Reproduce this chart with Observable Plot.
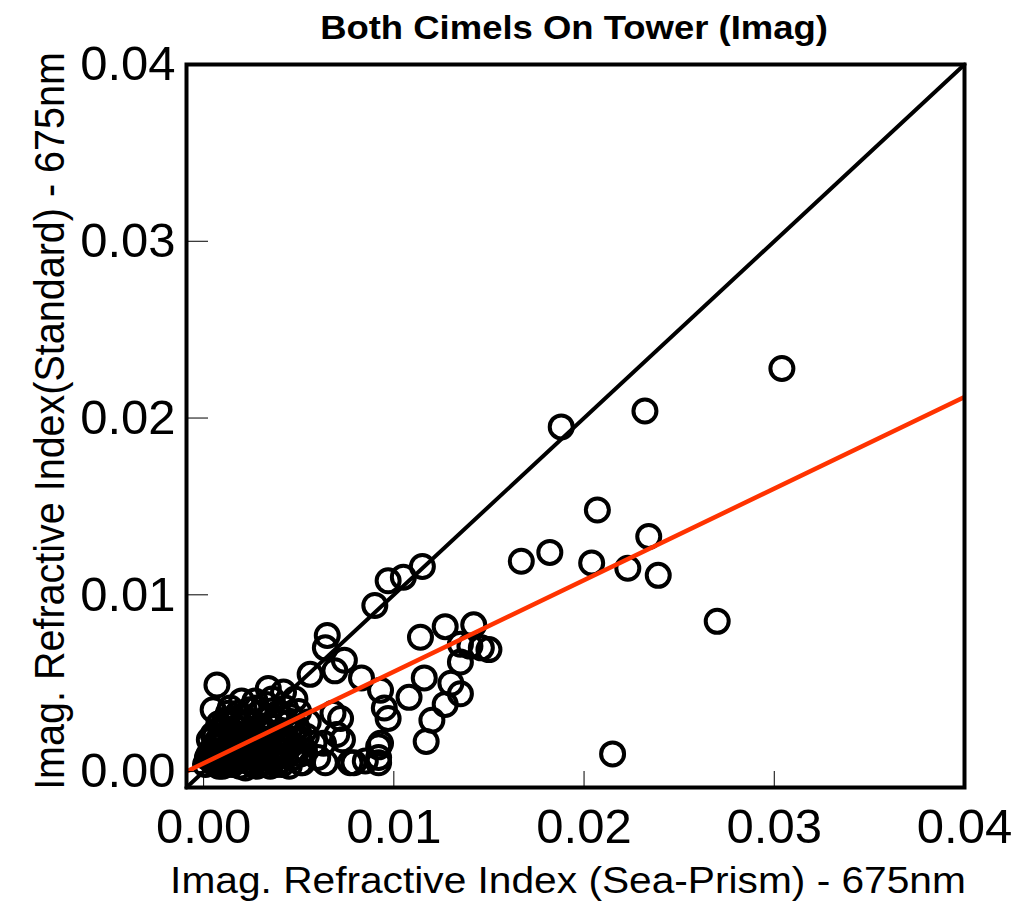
<!DOCTYPE html>
<html>
<head>
<meta charset="utf-8">
<script src="https://cdn.jsdelivr.net/npm/d3@7"></script>
<script src="https://cdn.jsdelivr.net/npm/@observablehq/plot@0.6"></script>
<style>
  body { margin: 0; background: #fff; }
</style>
</head>
<body>
<div id="chart"></div>
<script>
// Imaginary refractive index at 675 nm: Sea-Prism retrieval (x) vs standard Cimel retrieval (y)
const seaPrism = [
  0.0304, 0.0232, 0.0188, 0.0207, 0.0234, 0.0167, 0.0182, 0.0204, 0.0223, 0.0239, 0.0270, 0.0215,
  0.0115, 0.0105, 0.0097, 0.0090, 0.0065, 0.0064, 0.0074, 0.0056, 0.0069,
  0.0114, 0.0127, 0.0142, 0.0135, 0.0140, 0.0146, 0.0150, 0.0135, 0.0130, 0.0135, 0.0116, 0.0108, 0.0127, 0.0120, 0.0117,
  0.0083, 0.0093, 0.0095, 0.0097, 0.0068, 0.0072, 0.0070, 0.0073, 0.0093, 0.0092, 0.0092, 0.0085, 0.0079, 0.0092,
  0.0064, 0.0063, 0.0053, 0.0050, 0.0050, 0.0051, 0.0077, 0.0038,
  0.0007, 0.0005, 0.0034, 0.0042, 0.0020, 0.0014, 0.0028, 0.0046, 0.0009, 0.0023, 0.0039, 0.0050, 0.0004,
  0.0005, 0.0014, 0.0023, 0.0030, 0.0039, 0.0037, 0.0052, 0.0044, 0.0018, 0.0011, 0.0034, 0.0032, 0.0020,
  0.0002, 0.0003, 0.0007, 0.0010, 0.0012, 0.0016, 0.0017, 0.0021, 0.0022, 0.0025, 0.0026, 0.0027, 0.0030,
  0.0031, 0.0033, 0.0035, 0.0036, 0.0040, 0.0041, 0.0043, 0.0045, 0.0047, 0.0048, 0.0013, 0.0008, 0.0019,
  0.0028, 0.0006, 0.0015, 0.0024, 0.0055, 0.0058, 0.0060, 0.0045, 0.0033, 0.0018,
  0.0001, 0.0003, 0.0006, 0.0009, 0.0011, 0.0013, 0.0015, 0.0017, 0.0019, 0.0021, 0.0023, 0.0024,
  0.0026, 0.0027, 0.0029, 0.0031, 0.0032, 0.0034, 0.0036, 0.0037, 0.0038, 0.0040, 0.0042, 0.0043,
  0.0046, 0.0049, 0.0051, 0.0054, 0.0008, 0.0016, 0.0029, 0.0039, 0.0044, 0.0012, 0.0022, 0.0035,
  0.0004, 0.0007, 0.0010, 0.0014, 0.0018, 0.0020, 0.0025, 0.0028, 0.0033, 0.0035, 0.0041, 0.0047,
  0.0050, 0.0005, 0.0012, 0.0019, 0.0026, 0.0030, 0.0038, 0.0044, 0.0009, 0.0016, 0.0023, 0.0032
];
const standard = [
  0.0228, 0.0204, 0.0195, 0.0148, 0.0133, 0.0119, 0.0124, 0.0118, 0.0115, 0.0111, 0.0085, 0.0010,
  0.0116, 0.0110, 0.0108, 0.0094, 0.0077, 0.0070, 0.0063, 0.0055, 0.0057,
  0.0076, 0.0082, 0.0083, 0.0072, 0.0071, 0.0070, 0.0069, 0.0062, 0.0050, 0.0044, 0.0053, 0.0042, 0.0038, 0.0029, 0.0017,
  0.0053, 0.0046, 0.0036, 0.0030, 0.0033, 0.0030, 0.0021, 0.0018, 0.0016, 0.0014, 0.0008, 0.0006, 0.0005, 0.0005,
  0.0005, 0.0016, 0.0012, 0.0022, 0.0034, 0.0005, 0.0005, 0.0004,
  0.0049, 0.0035, 0.0047, 0.0045, 0.0040, 0.0036, 0.0036, 0.0031, 0.0023, 0.0027, 0.0019, 0.0019, 0.0012,
  0.0005, 0.0005, 0.0006, 0.0005, 0.0005, 0.0008, 0.0005, 0.0016, 0.0018, 0.0029, 0.0031, 0.0014, 0.0012,
  0.0008, 0.0018, 0.0010, 0.0015, 0.0008, 0.0022, 0.0010, 0.0031, 0.0017, 0.0009, 0.0021, 0.0040, 0.0026,
  0.0018, 0.0008, 0.0022, 0.0041, 0.0028, 0.0012, 0.0036, 0.0023, 0.0008, 0.0041, 0.0033, 0.0003, 0.0003,
  0.0003, 0.0020, 0.0027, 0.0035, 0.0028, 0.0016, 0.0008, 0.0003, 0.0038, 0.0033,
  0.0004, 0.0010, 0.0014, 0.0006, 0.0019, 0.0011, 0.0004, 0.0015, 0.0024, 0.0008, 0.0013, 0.0020,
  0.0004, 0.0016, 0.0011, 0.0022, 0.0005, 0.0017, 0.0010, 0.0025, 0.0014, 0.0006, 0.0020, 0.0009,
  0.0015, 0.0025, 0.0010, 0.0020, 0.0027, 0.0030, 0.0033, 0.0033, 0.0027, 0.0004, 0.0002, 0.0003,
  0.0007, 0.0017, 0.0003, 0.0024, 0.0006, 0.0014, 0.0016, 0.0007, 0.0012, 0.0026, 0.0004, 0.0012,
  0.0018, 0.0021, 0.0027, 0.0011, 0.0005, 0.0019, 0.0008, 0.0018, 0.0012, 0.0009, 0.0018, 0.0009
];

// Shared axis setup
const axisTicks = [0, 0.01, 0.02, 0.03, 0.04];
const tickLabels = ["0.00", "0.01", "0.02", "0.03", "0.04"];
const axisDomain = [-0.0009, 0.04];

// Least-squares fit shown in red
const fit = { slope: 0.518, intercept: 0.00047 };

const titleText = "Both Cimels On Tower (Imag)";
const xLabel = "Imag. Refractive Index (Sea-Prism) - 675nm";
const yLabel = "Imag. Refractive Index(Standard) - 675nm";

const points = seaPrism.map((x, i) => ({ x, y: standard[i] }));
const oneToOne = axisDomain.map(v => ({ x: v, y: v }));
const fitLine = axisDomain.map(v => ({ x: v, y: fit.intercept + fit.slope * v }));
const fmt = d => tickLabels[axisTicks.indexOf(d)];

const chart = Plot.plot({
  width: 1019,
  height: 901,
  marginLeft: 186,
  marginRight: 55,
  marginTop: 64,
  marginBottom: 114,
  style: { fontFamily: "'Liberation Sans', Arial, sans-serif", background: "white", color: "black" },
  x: { domain: axisDomain },
  y: { domain: axisDomain },
  marks: [
    Plot.dot(points, { x: "x", y: "y", r: 11.5, stroke: "black", strokeWidth: 4, fill: "none" }),
    Plot.line(oneToOne, { x: "x", y: "y", stroke: "black", strokeWidth: 4 }),
    Plot.line(fitLine, { x: "x", y: "y", stroke: "#ff3300", strokeWidth: 4.5, clip: true }),
    Plot.axisX({ ticks: axisTicks, tickSize: -16, tickPadding: 37, tickFormat: fmt, fontSize: 49, label: null, stroke: "black" }),
    Plot.axisY({ ticks: axisTicks, tickSize: -22, tickPadding: 33, tickFormat: fmt, fontSize: 49, label: null, stroke: "black" }),
    Plot.frame({ stroke: "black", strokeWidth: 4 })
  ]
});

document.getElementById("chart").appendChild(chart);

const svg = d3.select(chart);

// Adds a label and squeezes it horizontally to the given width
function fittedLabel({ x, y, rotate = 0, text, size, weight = "normal", family, width }) {
  const g = svg.append("g").attr("transform", `translate(${x},${y}) rotate(${rotate})`);
  const t = g.append("text")
    .attr("text-anchor", "middle")
    .attr("font-family", family)
    .attr("font-weight", weight)
    .attr("font-size", size)
    .attr("fill", "black")
    .text(text);
  const natural = t.node().getComputedTextLength();
  t.attr("transform", `scale(${width / natural},1)`);
}

fittedLabel({ x: 574, y: 39, text: titleText, size: 33, weight: "bold",
  family: "'Liberation Sans Narrow', 'Liberation Sans', Arial, sans-serif", width: 508 });

fittedLabel({ x: 568, y: 893, text: xLabel, size: 36,
  family: "'Liberation Sans', Arial, sans-serif", width: 796 });

fittedLabel({ x: 64, y: 421, rotate: -90, text: yLabel, size: 43,
  family: "'Liberation Sans Narrow', 'Liberation Sans', Arial, sans-serif", width: 738 });
</script>
</body>
</html>
